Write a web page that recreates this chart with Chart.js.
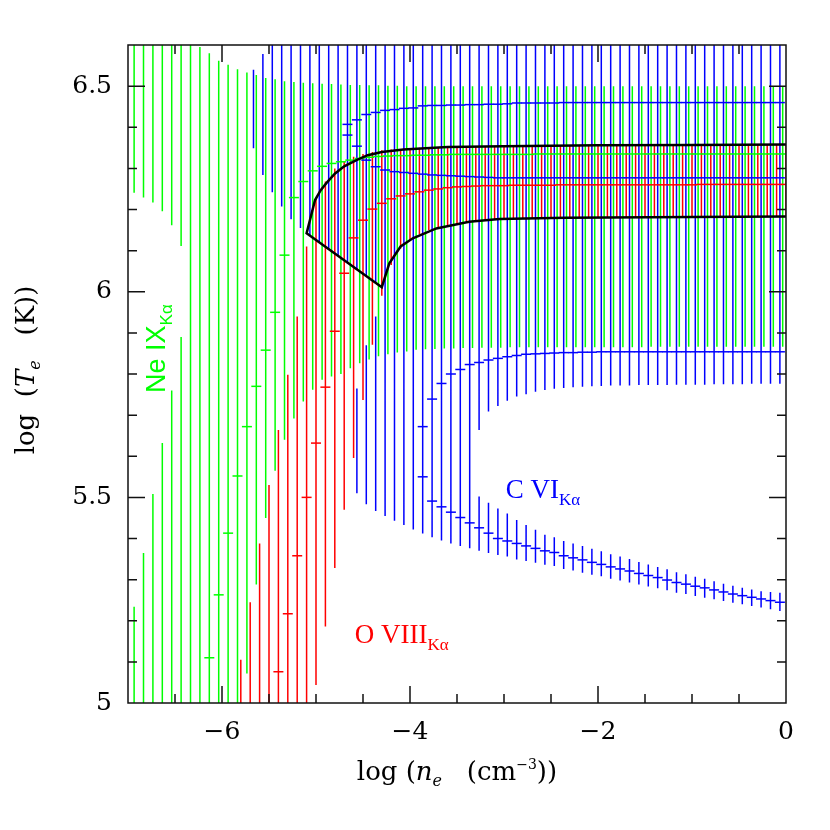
<!DOCTYPE html>
<html>
<head>
<meta charset="utf-8">
<script src="https://cdn.jsdelivr.net/npm/chart.js@4.4.1/dist/chart.umd.min.js"></script>
<style>
  html, body { margin: 0; padding: 0; background: #fff; }
  canvas { display: block; }
</style>
</head>
<body>
<canvas id="chart" width="830" height="830"></canvas>
<script>
// log n_e grid (0.1 dex)
var logNe = [
  -6.9, -6.8, -6.7, -6.6, -6.5, -6.4, -6.3, -6.2, -6.1, -6.0,
  -5.9, -5.8, -5.7, -5.6, -5.5, -5.4, -5.3, -5.2, -5.1, -5.0,
  -4.9, -4.8, -4.7, -4.6, -4.5, -4.4, -4.3, -4.2, -4.1, -4.0,
  -3.9, -3.8, -3.7, -3.6, -3.5, -3.4, -3.3, -3.2, -3.1, -3.0,
  -2.9, -2.8, -2.7, -2.6, -2.5, -2.4, -2.3, -2.2, -2.1, -2.0,
  -1.9, -1.8, -1.7, -1.6, -1.5, -1.4, -1.3, -1.2, -1.1, -1.0,
  -0.9, -0.8, -0.7, -0.6, -0.5, -0.4, -0.3, -0.2, -0.1, 0.0
];

// Ne IX Ka : log Te best value and error bar ends (whole grid)
var neMid = [
  null, null, null, null, null, null, null, null, 5.110, 5.263,
  5.413, 5.552, 5.672, 5.770, 5.858, 5.950, 6.089, 6.229, 6.268, 6.294,
  6.305, 6.312, 6.316, 6.320, 6.324, 6.327, 6.329, 6.330, 6.331, 6.331,
  6.332, 6.332, 6.333, 6.333, 6.334, 6.334, 6.334, 6.334, 6.334, 6.334,
  6.334, 6.334, 6.334, 6.335, 6.335, 6.335, 6.335, 6.335, 6.335, 6.335,
  6.335, 6.335, 6.335, 6.335, 6.335, 6.335, 6.335, 6.335, 6.335, 6.335,
  6.335, 6.335, 6.335, 6.335, 6.335, 6.335, 6.335, 6.335, 6.335, 6.335
];
var neHi = [
  6.8, 6.8, 6.8, 6.8, 6.8, 6.8, 6.8, 6.595, 6.580, 6.562,
  6.552, 6.541, 6.533, 6.527, 6.520, 6.517, 6.512, 6.510, 6.508, 6.507,
  6.506, 6.505, 6.504, 6.503, 6.503, 6.502, 6.502, 6.501, 6.501, 6.500,
  6.500, 6.500, 6.500, 6.500, 6.500, 6.500, 6.500, 6.500, 6.500, 6.500,
  6.500, 6.500, 6.500, 6.500, 6.500, 6.500, 6.500, 6.500, 6.500, 6.500,
  6.500, 6.500, 6.500, 6.500, 6.500, 6.500, 6.500, 6.500, 6.500, 6.500,
  6.500, 6.500, 6.500, 6.500, 6.500, 6.500, 6.500, 6.500, 6.500, 6.500
];
var neLo = [
  4.8, 4.8, 4.8, 4.8, 4.8, 4.8, 4.8, 4.8, 4.8, 4.8,
  4.8, 4.8, 5.072, 5.288, 5.450, 5.565, 5.640, 5.692, 5.733, 5.762,
  5.786, 5.794, 5.800, 5.814, 5.826, 5.835, 5.843, 5.848, 5.852, 5.855,
  5.859, 5.860, 5.861, 5.862, 5.862, 5.863, 5.863, 5.864, 5.864, 5.864,
  5.865, 5.865, 5.865, 5.865, 5.865, 5.865, 5.865, 5.865, 5.865, 5.865,
  5.865, 5.865, 5.865, 5.865, 5.865, 5.866, 5.866, 5.866, 5.866, 5.866,
  5.866, 5.866, 5.866, 5.866, 5.866, 5.866, 5.866, 5.866, 5.866, 5.866
];
// split bars at log ne = -6.9 .. -6.4 (gap between these two values)
var neGapLo = [5.234, 5.365, 5.508, 5.632, 5.760, 5.890];
var neGapHi = [6.241, 6.229, 6.217, 6.196, 6.162, 6.111];

// O VIII Ka (log ne = -5.8 .. 0.0)
var oNe = logNe.slice(11);
var oMid = [
  null, null, null, null, 5.076, 5.217, 5.358, 5.500, 5.632,
  5.768, 5.904, 6.045, 6.131, 6.174, 6.201, 6.215, 6.226, 6.233, 6.238,
  6.243, 6.247, 6.250, 6.253, 6.255, 6.256, 6.257, 6.258, 6.258, 6.258,
  6.259, 6.259, 6.259, 6.259, 6.259, 6.260, 6.260, 6.260, 6.260, 6.260,
  6.260, 6.260, 6.260, 6.260, 6.260, 6.260, 6.260, 6.260, 6.260, 6.260,
  6.261, 6.261, 6.261, 6.261, 6.261, 6.261, 6.261, 6.261, 6.261, 6.261
];
var oHi = [
  5.105, 5.245, 5.388, 5.530, 5.664, 5.798, 5.940, 6.110, 6.227,
  6.268, 6.300, 6.317, 6.328, 6.335, 6.340, 6.344, 6.346, 6.347, 6.349,
  6.350, 6.351, 6.351, 6.352, 6.352, 6.353, 6.353, 6.354, 6.354, 6.354,
  6.355, 6.355, 6.355, 6.355, 6.355, 6.356, 6.356, 6.356, 6.356, 6.356,
  6.356, 6.356, 6.356, 6.356, 6.356, 6.357, 6.357, 6.357, 6.357, 6.357,
  6.357, 6.357, 6.357, 6.357, 6.357, 6.358, 6.358, 6.358, 6.358, 6.358
];
var oLo = [
  4.8, 4.8, 4.8, 4.8, 4.8, 4.8, 4.8, 4.8, 5.044,
  5.186, 5.328, 5.470, 5.596, 5.737, 5.871, 5.990, 6.065, 6.105, 6.125,
  6.140, 6.150, 6.156, 6.161, 6.165, 6.168, 6.171, 6.173, 6.175, 6.177,
  6.178, 6.178, 6.179, 6.179, 6.180, 6.180, 6.180, 6.181, 6.181, 6.181,
  6.181, 6.181, 6.181, 6.182, 6.182, 6.182, 6.182, 6.182, 6.182, 6.182,
  6.182, 6.182, 6.182, 6.183, 6.183, 6.183, 6.183, 6.183, 6.183, 6.183
];

// C VI Ka (log ne = -5.7 .. -0.1)
var cNe = logNe.slice(12, 69);
var cHi = [
  6.540, 6.578, 6.8, 6.8, 6.8, 6.8, 6.8, 6.8,
  6.8, 6.8, 6.8, 6.8, 6.8, 6.8, 6.8, 6.8, 6.8, 6.8,
  6.8, 6.8, 6.8, 6.8, 6.8, 6.8, 6.8, 6.8, 6.8, 6.8,
  6.8, 6.8, 6.8, 6.8, 6.8, 6.8, 6.8, 6.8, 6.8, 6.8,
  6.8, 6.8, 6.8, 6.8, 6.8, 6.8, 6.8, 6.8, 6.8, 6.8,
  6.8, 6.8, 6.8, 6.8, 6.8, 6.8, 6.8, 6.8, 6.8
];
var cLo = [
  6.349, 6.284, 6.242, 6.207, 6.176, 6.155, 6.138, 6.120,
  6.104, 6.088, 6.071, 6.055, 6.038, 6.022, 5.455, 5.443, 5.433, 5.422,
  5.412, 5.403, 5.395, 5.388, 5.382, 5.376, 5.664, 5.709, 5.722, 5.735,
  5.745, 5.751, 5.757, 5.761, 5.764, 5.766, 5.768, 5.769, 5.770, 5.771,
  5.772, 5.772, 5.772, 5.773, 5.773, 5.773, 5.773, 5.774, 5.774, 5.774,
  5.774, 5.775, 5.775, 5.775, 5.775, 5.776, 5.776, 5.776, 5.776
];
// second (lower) bar segment
var cSegLo = [
  null, null, null, null, null, null, null, null,
  null, null, null, 5.510, 5.483, 5.467, null, null, null, null,
  null, null, null, null, null, null, 5.370, 5.365, 5.360, 5.356,
  5.349, 5.345, 5.341, 5.336, 5.333, 5.326, 5.322, 5.317, 5.312, 5.308,
  5.302, 5.298, 5.293, 5.288, 5.283, 5.279, 5.274, 5.268, 5.265, 5.260,
  5.256, 5.252, 5.248, 5.244, 5.240, 5.236, 5.232, 5.228, 5.224
];
var cSegHi = [
  null, null, null, null, null, null, null, null,
  null, null, null, 5.765, 5.870, 5.940, null, null, null, null,
  null, null, null, null, null, null, 5.502, 5.487, 5.473, 5.461,
  5.445, 5.433, 5.421, 5.409, 5.403, 5.394, 5.388, 5.382, 5.375, 5.369,
  5.362, 5.356, 5.350, 5.343, 5.337, 5.331, 5.325, 5.318, 5.313, 5.307,
  5.302, 5.296, 5.290, 5.285, 5.280, 5.276, 5.272, 5.270, 5.268
];
// four solution branches
var cHigh = [
  null, null, null, null, null, null, null, null,
  null, null, 6.407, 6.418, 6.431, 6.436, 6.441, 6.443, 6.446, 6.447,
  6.452, 6.453, 6.453, 6.454, 6.454, 6.455, 6.455, 6.456, 6.456, 6.457,
  6.459, 6.459, 6.459, 6.459, 6.459, 6.460, 6.460, 6.460, 6.460, 6.460,
  6.460, 6.460, 6.460, 6.460, 6.460, 6.460, 6.460, 6.460, 6.460, 6.460,
  6.460, 6.460, 6.460, 6.460, 6.460, 6.460, 6.460, 6.460, 6.460
];
var cMid = [
  null, null, null, null, null, null, null, null,
  null, null, 6.381, 6.354, 6.320, 6.304, 6.296, 6.292, 6.290, 6.288,
  6.286, 6.284, 6.283, 6.282, 6.281, 6.280, 6.279, 6.278, 6.277, 6.277,
  6.277, 6.277, 6.277, 6.277, 6.277, 6.277, 6.277, 6.277, 6.277, 6.277,
  6.277, 6.277, 6.277, 6.277, 6.277, 6.277, 6.277, 6.277, 6.277, 6.277,
  6.277, 6.277, 6.277, 6.277, 6.277, 6.277, 6.277, 6.277, 6.277
];
var cUpper = [
  null, null, null, null, null, null, null, null,
  null, null, null, null, null, null, null, null, null, null,
  5.672, 5.739, 5.777, 5.800, 5.811, 5.823, 5.828, 5.834, 5.838, 5.842,
  5.845, 5.848, 5.849, 5.850, 5.851, 5.852, 5.852, 5.853, 5.853, 5.854,
  5.854, 5.854, 5.854, 5.854, 5.854, 5.854, 5.854, 5.854, 5.854, 5.854,
  5.854, 5.854, 5.854, 5.854, 5.854, 5.854, 5.854, 5.854, 5.854
];
var cLower = [
  null, null, null, null, null, null, null, null,
  null, null, null, null, null, null, null, null, null, null,
  5.550, 5.491, 5.477, 5.464, 5.451, 5.438, 5.426, 5.413, 5.400, 5.394,
  5.388, 5.382, 5.376, 5.370, 5.366, 5.358, 5.353, 5.348, 5.342, 5.337,
  5.331, 5.326, 5.321, 5.315, 5.310, 5.305, 5.299, 5.293, 5.289, 5.284,
  5.280, 5.275, 5.270, 5.265, 5.261, 5.257, 5.253, 5.249, 5.245
];

// allowed region (black outline)
var contourX = [0, -1.0, -2.0, -3.0, -3.6, -4.07, -4.30, -4.45, -4.57, -4.70, -4.80, -4.89, -4.95, -5.01, -5.10,
                -4.30, -4.22, -4.10, -3.97, -3.72, -3.37, -3.05, -2.34, -1.0, 0];
var contourY = [6.358, 6.357, 6.356, 6.354, 6.352, 6.346, 6.340, 6.332, 6.320, 6.305, 6.287, 6.264, 6.247, 6.223, 6.142,
                6.011, 6.069, 6.110, 6.130, 6.154, 6.170, 6.177, 6.180, 6.182, 6.183];

var xTickVals = [-6, -4, -2, 0];
var yTickVals = [5, 5.5, 6, 6.5];

var GREEN = '#00ff00', RED = '#ff0000', BLUE = '#0000ff';

// vertical bars as one broken line per species
function bars(xs, dx, lo, hi, gapLo, gapHi) {
  var pts = [];
  xs.forEach(function (x, i) {
    var X = x + dx;
    if (lo[i] == null || hi[i] == null) return;
    if (gapLo && gapLo[i] != null) {
      pts.push({x: X, y: lo[i]}, {x: X, y: gapLo[i]}, {x: X, y: null});
      pts.push({x: X, y: gapHi[i]}, {x: X, y: hi[i]}, {x: X, y: null});
    } else {
      pts.push({x: X, y: lo[i]}, {x: X, y: hi[i]}, {x: X, y: null});
    }
  });
  return pts;
}
function centres(xs, dx, mids) {
  var pts = [];
  mids.forEach(function (m) {
    xs.forEach(function (x, i) { if (m[i] != null) pts.push({x: x + dx, y: m[i]}); });
  });
  return pts;
}
function barSet(data, color, order) {
  return { data: data, showLine: true, spanGaps: false, borderColor: color, borderWidth: 1.5,
           pointRadius: 0, order: order };
}
function tickSet(data, color, order) {
  return { data: data, showLine: false, pointStyle: 'line', pointRadius: 5, pointBorderWidth: 1.5,
           pointBorderColor: color, borderColor: color, backgroundColor: color, order: order };
}

var dG = -0.035, dB = 0.035;
var datasets = [
  barSet(bars(logNe, dG, neLo, neHi, neGapLo, neGapHi), GREEN, 10),
  barSet(bars(oNe, 0, oLo, oHi), RED, 9),
  barSet(bars(cNe, dB, cLo, cHi).concat(bars(cNe, dB, cSegLo, cSegHi)), BLUE, 8),
  tickSet(centres(logNe, dG, [neMid]), GREEN, 5),
  tickSet(centres(oNe, 0, [oMid]), RED, 4),
  tickSet(centres(cNe, dB, [cHigh, cMid, cUpper, cLower]), BLUE, 3),
  { data: contourX.map(function (x, i) { return {x: x, y: contourY[i]}; }), showLine: true,
    borderColor: '#000', borderWidth: 2.5, pointRadius: 0, order: 0 }
];

var speciesLabels = [
  { main: 'Ne IX', color: GREEN, font: 'Liberation Sans', x: -6.605, y: 5.754, rot: true },
  { main: 'O VIII', color: RED, font: 'Liberation Serif', x: -4.588, y: 5.146, rot: false },
  { main: 'C VI', color: BLUE, font: 'Liberation Serif', x: -2.982, y: 5.498, rot: false }
];

function drawPieces(ctx, pieces, x, y, center) {
  var total = 0;
  pieces.forEach(function (p) { ctx.font = p[1]; total += ctx.measureText(p[0]).width; });
  var cx = center ? x - total / 2 : x;
  pieces.forEach(function (p) {
    ctx.font = p[1];
    ctx.fillText(p[0], cx, y + (p[2] || 0));
    cx += ctx.measureText(p[0]).width;
  });
}

var decor = {
  id: 'decor',
  afterDatasetsDraw: function (chart) {
    var ctx = chart.ctx, a = chart.chartArea, xs = chart.scales.x, ys = chart.scales.y;
    ctx.save();
    ctx.strokeStyle = '#111';
    ctx.lineWidth = 1.5;
    ctx.strokeRect(a.left, a.top, a.right - a.left, a.bottom - a.top);
    ctx.beginPath();
    for (var v = -6.5; v < 0; v += 0.5) {
      var px = xs.getPixelForValue(v);
      var len = (Math.abs(v % 2) < 1e-6) ? 17 : 9;
      ctx.moveTo(px, a.bottom); ctx.lineTo(px, a.bottom - len);
      ctx.moveTo(px, a.top); ctx.lineTo(px, a.top + len);
    }
    for (var k = 51; k <= 65; k++) {
      var py = ys.getPixelForValue(k / 10);
      var l2 = (k % 5 === 0) ? 17 : 9;
      ctx.moveTo(a.left, py); ctx.lineTo(a.left + l2, py);
      ctx.moveTo(a.right, py); ctx.lineTo(a.right - l2, py);
    }
    ctx.stroke();
    ctx.restore();
  },
  afterDraw: function (chart) {
    var ctx = chart.ctx, a = chart.chartArea, xs = chart.scales.x, ys = chart.scales.y;
    ctx.save();
    ctx.textBaseline = 'alphabetic';
    ctx.textAlign = 'left';
    // species labels
    speciesLabels.forEach(function (s) {
      ctx.fillStyle = s.color;
      var px = xs.getPixelForValue(s.x), py = ys.getPixelForValue(s.y);
      var pieces = [[s.main, '27px "' + s.font + '"'], ['K\u03b1', '17px "' + s.font + '"', 7]];
      if (s.rot) {
        ctx.save();
        ctx.translate(px, py);
        ctx.rotate(-Math.PI / 2);
        drawPieces(ctx, pieces, 0, 0, false);
        ctx.restore();
      } else {
        drawPieces(ctx, pieces, px, py, false);
      }
    });
    // axis titles
    ctx.fillStyle = '#000';
    var f = '26px "DejaVu Serif"', fi = 'italic 26px "DejaVu Serif"', fs = 'italic 16px "DejaVu Serif"';
    drawPieces(ctx, [['log (', f], ['n', fi], ['e', fs, 6], ['   (cm', f], ['\u22123', '14px "DejaVu Serif"', -11], ['))', f]],
               (a.left + a.right) / 2, 780, true);
    ctx.save();
    ctx.translate(34, (a.top + a.bottom) / 2 - 4);
    ctx.rotate(-Math.PI / 2);
    drawPieces(ctx, [['log  (', f], ['T', fi], ['e', fs, 6], ['   (K))', f]], 0, 0, true);
    ctx.restore();
    ctx.restore();
  }
};

function fmt(v) { return v < 0 ? '\u2212' + Math.abs(v) : String(v); }

new Chart(document.getElementById('chart').getContext('2d'), {
  type: 'scatter',
  data: { datasets: datasets },
  options: {
    responsive: false,
    animation: false,
    events: [],
    layout: { padding: { left: 0, right: 44, top: 45, bottom: 0 } },
    plugins: { legend: { display: false }, tooltip: { enabled: false } },
    scales: {
      x: {
        type: 'linear', min: -7, max: 0,
        grid: { display: false, drawTicks: false },
        border: { display: false },
        afterBuildTicks: function (s) { s.ticks = xTickVals.map(function (v) { return {value: v}; }); },
        afterFit: function (s) { s.height = 127; },
        ticks: { padding: 14, color: '#000', maxRotation: 0, font: { family: 'DejaVu Serif', size: 25 },
                 callback: function (v) { return fmt(v); } }
      },
      y: {
        type: 'linear', min: 5, max: 6.6,
        grid: { display: false, drawTicks: false },
        border: { display: false },
        afterBuildTicks: function (s) { s.ticks = yTickVals.map(function (v) { return {value: v}; }); },
        afterFit: function (s) { s.width = 128; },
        ticks: { padding: 16, color: '#000', font: { family: 'DejaVu Serif', size: 25 },
                 callback: function (v) { return String(v); } }
      }
    }
  },
  plugins: [decor]
});
</script>
</body>
</html>
